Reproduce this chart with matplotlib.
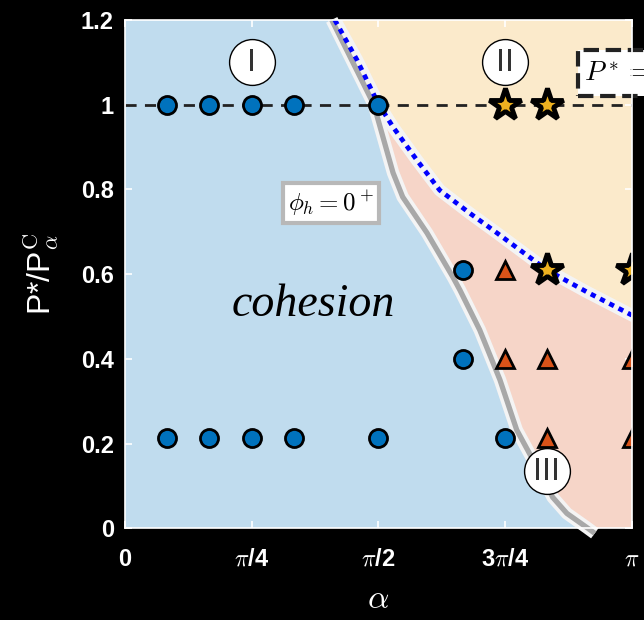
import numpy as np
import matplotlib.pyplot as plt

plt.rcParams['mathtext.fontset'] = 'cm'

# phase boundaries, alpha in units of pi
gray_a = np.array([0.408, 0.491, 0.529, 0.548, 0.596, 0.647, 0.661, 0.700,
                   0.740, 0.773, 0.813, 0.844, 0.872, 0.911, 0.927])
gray_p = np.array([1.2, 1.0, 0.839, 0.782, 0.697, 0.593, 0.562, 0.468,
                   0.350, 0.232, 0.144, 0.073, 0.035, 0.002, -0.012])
blue_a = np.array([0.414, 0.458, 0.499, 0.529, 0.576, 0.621, 0.680, 0.734,
                   0.832, 0.911, 1.0])
blue_p = np.array([1.2, 1.105, 1.004, 0.947, 0.869, 0.798, 0.744, 0.697,
                   0.61, 0.558, 0.503])

# simulation points (alpha / pi, P*/Pc)
coh_a = [1/12, 1/6, 1/4, 1/3, 1/2, 1/12, 1/6, 1/4, 1/3, 1/2, 3/4, 2/3, 2/3]
coh_p = [1.0, 1.0, 1.0, 1.0, 1.0, 0.214, 0.214, 0.214, 0.214, 0.214, 0.214, 0.61, 0.4]
tri_a = [3/4, 3/4, 5/6, 1.0, 5/6, 1.0]
tri_p = [0.61, 0.4, 0.4, 0.4, 0.214, 0.214]
star_a = [3/4, 5/6, 5/6, 1.0]
star_p = [1.0, 1.0, 0.61, 0.61]

fig = plt.figure(figsize=(6.44, 6.20), dpi=100, facecolor='black')
ax = fig.add_axes([0.194, 0.148, 0.787, 0.820])
ax.set_facecolor('#c0dcee')
ax.set_xlim(0, np.pi)
ax.set_ylim(0, 1.2)

# region fills
ga, bx = gray_a * np.pi, blue_a * np.pi
ax.fill(np.r_[ga, np.pi, bx[::-1]], np.r_[gray_p, 0, blue_p[::-1]],
        color='#f6d5c8', lw=0, zorder=1)
ax.fill(np.r_[bx, np.pi], np.r_[blue_p, 1.2], color='#fbeacb', lw=0, zorder=1)

# phi_h = 0+ line with white halo
ax.plot(ga, gray_p, color='#f4f4f4', lw=9, solid_capstyle='butt', zorder=2, clip_on=False)
ax.plot(ga, gray_p, color='#a8a8a8', lw=3.8, solid_capstyle='butt', zorder=3, clip_on=False)
# boundary of region II
ax.plot(bx, blue_p, color='#f4f4f4', lw=9, zorder=2)
ax.plot(bx, blue_p, color='#0000ff', lw=3.4, ls=(0, (1.1, 1.1)), zorder=3)

ax.axhline(1.0, color='#222222', lw=2, ls=(0, (4, 3)), zorder=4)

ax.plot(np.array(coh_a) * np.pi, coh_p, 'o', ms=13, mfc='#0072bd', mec='black', mew=2, zorder=5)
ax.plot(np.array(tri_a) * np.pi, tri_p, '^', ms=13, mfc='#d95319', mec='black', mew=2, zorder=5)
ax.plot(np.array(star_a) * np.pi, star_p, '*', ms=24, mfc='#edb120', mec='black', mew=3.5, zorder=5)

# region numbers
for lab, xa, yp in [('I', 0.25, 1.1), ('II', 0.75, 1.1), ('III', 0.832, 0.135)]:
    ax.plot(xa * np.pi, yp, 'o', ms=33, mfc='white', mec='black', mew=1, zorder=6)
    ax.text(xa * np.pi, yp, lab, fontsize=22, family='Liberation Sans Narrow',
            color='#333333', ha='center', va='center', zorder=7)

ax.text(0.406 * np.pi, 0.768, r'$\phi_h = 0^+$', fontsize=18, ha='center', va='center',
        zorder=6, bbox=dict(boxstyle='square,pad=0.2', fc='white', ec='#b8b8b8', lw=3))
ax.text(0.371 * np.pi, 0.527, 'cohesion', fontsize=33, family='Liberation Serif',
        style='italic', ha='center', va='center', zorder=6)
ax.text(0.905 * np.pi, 1.075, r'$P^* = P^C_\alpha$', fontsize=20, ha='left', va='center',
        zorder=6, clip_on=False,
        bbox=dict(boxstyle='square,pad=0.2', fc='white', ec='#222222', lw=3, ls='--'))

ax.set_xticks(np.array([0, 0.25, 0.5, 0.75, 1.0]) * np.pi)
ax.set_xticklabels(['0', r'$\pi$/4', r'$\pi$/2', r'3$\pi$/4', r'$\pi$'])
ax.set_yticks([0, 0.2, 0.4, 0.6, 0.8, 1.0, 1.2])
ax.set_yticklabels(['0', '0.2', '0.4', '0.6', '0.8', '1', '1.2'])
for t in ax.get_xticklabels() + ax.get_yticklabels():
    t.set_family('Liberation Sans')
    t.set_fontweight('bold')
ax.tick_params(direction='in', colors='white', labelsize=17, length=5, width=1.2,
               top=True, right=True, pad=8)
ax.tick_params(axis='x', pad=14)
for s in ax.spines.values():
    s.set_color('white')
    s.set_linewidth(1.2)
    s.set_zorder(8)

ax.set_xlabel(r'$\alpha$', color='white', fontsize=24, labelpad=8)
ax.set_ylabel(r'P*/P$^{\mathrm{C}}_{\alpha}$', color='white', fontsize=23,
              family='Liberation Sans', labelpad=14)

fig.savefig('out.png', dpi=100, facecolor='black')
